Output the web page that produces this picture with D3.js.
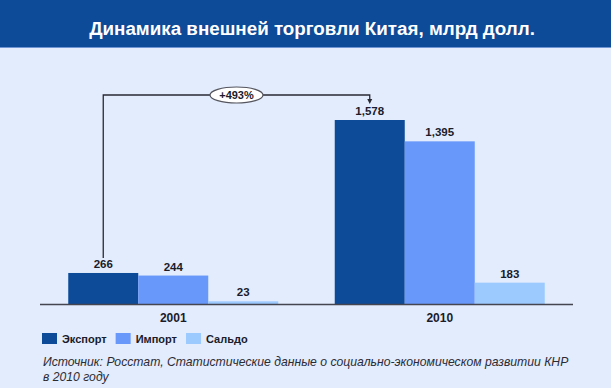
<!DOCTYPE html>
<html>
<head>
<meta charset="utf-8">
<script src="https://cdn.jsdelivr.net/npm/d3@7"></script>
<style>
  body { margin: 0; background: #e2ecfc; }
  svg { display: block; font-family: "Liberation Sans", Arial, sans-serif; }
</style>
</head>
<body>
<svg width="611" height="388"></svg>
<script>
// data
var years = ['2001', '2010'];
var series = ['export', 'import', 'saldo'];
var seriesNames = ['Экспорт', 'Импорт', 'Сальдо'];
var seriesColors = ['#0d4a98', '#6898fa', '#9ccaff'];
var exportVals = [266, 1578];
var importVals = [244, 1395];
var saldoVals = [23, 183];
var growthLabel = '+493%';

var title = 'Динамика внешней торговли Китая, млрд долл.';
var source1 = 'Источник: Росстат, Статистические данные о социально-экономическом развитии КНР';
var source2 = 'в 2010 году';

var fmt = d3.format(',');

var rows = years.map(function (y, i) {
  return { year: y, values: [exportVals[i], importVals[i], saldoVals[i]] };
});

var svg = d3.select('svg');

svg.append('rect').attr('width', 611).attr('height', 388).attr('fill', '#e2ecfc');

// title bar
svg.append('rect').attr('width', 611).attr('height', 47).attr('fill', '#0d4a98');
svg.append('rect').attr('y', 47).attr('width', 611).attr('height', 1).attr('fill', '#6f95d4');
svg.append('text')
  .attr('x', 312).attr('y', 35)
  .attr('text-anchor', 'middle')
  .attr('fill', '#fff')
  .attr('font-weight', 'bold')
  .attr('font-size', 18.8)
  .text(title);

var x0 = d3.scaleBand().domain(years).range([40, 573]).paddingInner(0.212).paddingOuter(0.106);
var x1 = d3.scaleBand().domain(series).range([0, x0.bandwidth()]);
var y = d3.scaleLinear().domain([0, 1578]).range([304, 120]);
var color = d3.scaleOrdinal().domain(series).range(seriesColors);

var g = svg.append('g');

var groups = g.selectAll('g.year').data(rows)
  .enter().append('g')
    .attr('class', 'year')
    .attr('transform', function (d) { return 'translate(' + x0(d.year) + ',0)'; });

groups.selectAll('rect').data(function (d) { return d.values; })
  .enter().append('rect')
    .attr('x', function (d, i) { return x1(series[i]); })
    .attr('width', x1.bandwidth())
    .attr('y', function (d) { return y(d); })
    .attr('height', function (d) { return y(0) - y(d); })
    .attr('fill', function (d, i) { return color(series[i]); });

groups.selectAll('text.val').data(function (d) { return d.values; })
  .enter().append('text')
    .attr('class', 'val')
    .attr('x', function (d, i) { return x1(series[i]) + x1.bandwidth() / 2; })
    .attr('y', function (d) { return y(d) - 5; })
    .attr('text-anchor', 'middle')
    .attr('font-weight', 'bold')
    .attr('font-size', 11.5)
    .attr('fill', '#1b1b2a')
    .text(function (d) { return fmt(d); });

// baseline + category labels
g.append('line')
  .attr('x1', 40).attr('x2', 573)
  .attr('y1', y(0) + 0.5).attr('y2', y(0) + 0.5)
  .attr('stroke', '#45454f').attr('stroke-width', 1.5);

g.selectAll('text.cat').data(years)
  .enter().append('text')
    .attr('class', 'cat')
    .attr('x', function (d) { return x0(d) + x0.bandwidth() / 2; })
    .attr('y', 322)
    .attr('text-anchor', 'middle')
    .attr('font-weight', 'bold')
    .attr('font-size', 12)
    .attr('fill', '#1b1b2a')
    .text(function (d) { return d; });

// growth annotation
var ax1 = x0(years[0]) + x1('export') + x1.bandwidth() / 2;
var ax2 = x0(years[1]) + x1('export') + x1.bandwidth() / 2;
var aTop = y(exportVals[1]) - 25;
svg.append('path')
  .attr('d', 'M' + ax1 + ',' + (y(exportVals[0]) - 15) + 'V' + aTop + 'H' + ax2 + 'V' + (y(exportVals[1]) - 19))
  .attr('fill', 'none')
  .attr('stroke', '#2a2a33')
  .attr('stroke-width', 1.3);
svg.append('path')
  .attr('d', 'M' + (ax2 - 2.5) + ',' + (y(exportVals[1]) - 21) + 'L' + (ax2 + 2.5) + ',' + (y(exportVals[1]) - 21) + 'L' + ax2 + ',' + (y(exportVals[1]) - 16) + 'Z')
  .attr('fill', '#2a2a33');
var ecx = (ax1 + ax2) / 2;
svg.append('ellipse')
  .attr('cx', ecx).attr('cy', aTop)
  .attr('rx', 26.5).attr('ry', 8)
  .attr('fill', '#fff')
  .attr('stroke', '#55555f').attr('stroke-width', 1.2);
svg.append('text')
  .attr('x', ecx).attr('y', aTop + 4)
  .attr('text-anchor', 'middle')
  .attr('font-weight', 'bold')
  .attr('font-size', 11)
  .attr('fill', '#1b1b2a')
  .text(growthLabel);

// legend
var lx = 42;
seriesNames.forEach(function (name, i) {
  svg.append('rect')
    .attr('x', lx).attr('y', 333)
    .attr('width', 15).attr('height', 11)
    .attr('fill', seriesColors[i]);
  var t = svg.append('text')
    .attr('x', lx + 20).attr('y', 343)
    .attr('font-weight', 'bold')
    .attr('font-size', 11)
    .attr('fill', '#1b1b2a')
    .text(name);
  lx += 20 + t.node().getComputedTextLength() + 9;
});

// source
svg.append('text')
  .attr('x', 43).attr('y', 366)
  .attr('font-style', 'italic')
  .attr('font-size', 12.2)
  .attr('fill', '#2b2b35')
  .text(source1);
svg.append('text')
  .attr('x', 43).attr('y', 381)
  .attr('font-style', 'italic')
  .attr('font-size', 12.2)
  .attr('fill', '#2b2b35')
  .text(source2);
</script>
</body>
</html>
